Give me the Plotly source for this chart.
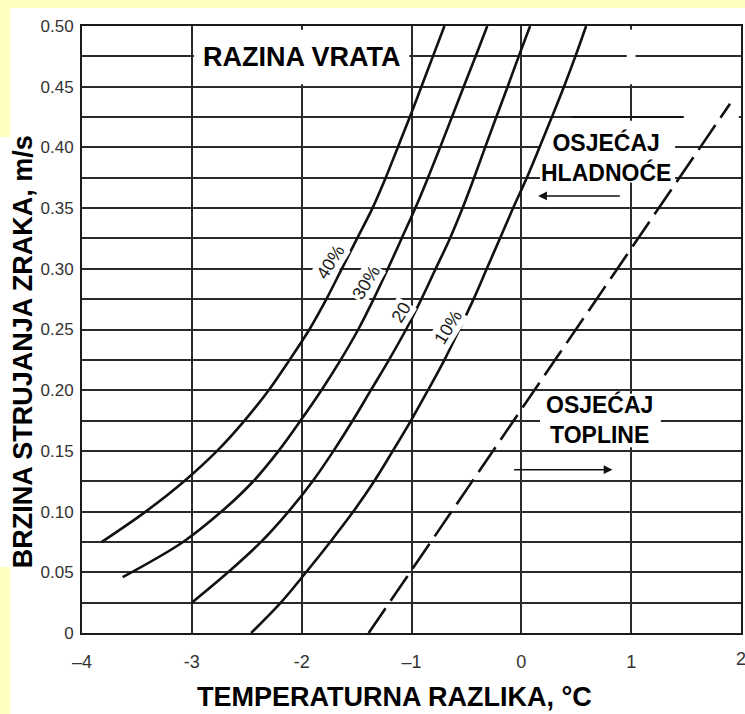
import plotly.graph_objects as go

# ---- data ----
x_40 = [-3.82, -3.42, -3.07, -2.77, -2.52, -2.30, -2.11, -1.93, -1.775, -1.635, -1.495, -1.355, -1.235, -1.125, -1.015, -0.91, -0.805, -0.70]
y_40 = [0.075, 0.10, 0.125, 0.15, 0.175, 0.20, 0.225, 0.25, 0.275, 0.30, 0.325, 0.35, 0.375, 0.40, 0.425, 0.45, 0.475, 0.50]

x_30 = [-3.63, -3.08, -2.73, -2.44, -2.21, -2.01, -1.82, -1.645, -1.485, -1.345, -1.215, -1.09, -0.965, -0.85, -0.74, -0.632, -0.525, -0.416, -0.31]
y_30 = [0.046, 0.075, 0.10, 0.125, 0.15, 0.175, 0.20, 0.225, 0.25, 0.275, 0.30, 0.325, 0.35, 0.375, 0.40, 0.425, 0.45, 0.475, 0.50]

x_20 = [-3.0, -2.67, -2.37, -2.12, -1.90, -1.71, -1.535, -1.37, -1.205, -1.05, -0.91, -0.78, -0.65, -0.535, -0.43, -0.33, -0.228, -0.125, -0.024, 0.08]
y_20 = [0.025, 0.05, 0.075, 0.10, 0.125, 0.15, 0.175, 0.20, 0.225, 0.25, 0.275, 0.30, 0.325, 0.35, 0.375, 0.40, 0.425, 0.45, 0.475, 0.50]

x_10 = [-2.46, -2.19, -1.96, -1.74, -1.53, -1.34, -1.17, -1.005, -0.85, -0.70, -0.565, -0.435, -0.315, -0.195, -0.075, 0.05, 0.165, 0.278, 0.388, 0.492, 0.59]
y_10 = [0.0, 0.025, 0.05, 0.075, 0.10, 0.125, 0.15, 0.175, 0.20, 0.225, 0.25, 0.275, 0.30, 0.325, 0.35, 0.375, 0.40, 0.425, 0.45, 0.475, 0.50]

x_limit = [-1.39, 1.90]
y_limit = [0.0, 0.436]

curve_labels = ["40%", "30%", "20", "10%"]
label_x = [-1.74, -1.41, -1.10, -0.665]
label_y = [0.306, 0.289, 0.264, 0.252]

x_tickvals = [-4, -3, -2, -1, 0, 1, 2]
x_ticktext = ["\u20134", "-3", "-2", "\u20131", "0", "1", "2"]
y_gridvals = [i * 0.025 for i in range(21)]
y_ticktext = ["0", "", "0.05", "", "0.10", "", "0.15", "", "0.20", "", "0.25", "", "0.30", "", "0.35", "", "0.40", "", "0.45", "", "0.50"]

# ---- figure ----
fig = go.Figure()
line_style = dict(color="#111", width=2.6)
for xs, ys in [(x_40, y_40), (x_30, y_30), (x_20, y_20), (x_10, y_10)]:
    fig.add_trace(go.Scatter(x=xs, y=ys, mode="lines", line=dict(shape="spline", smoothing=1.0, **line_style),
                             hoverinfo="skip", showlegend=False))
fig.add_trace(go.Scatter(x=x_limit, y=y_limit, mode="lines",
                         line=dict(color="#111", width=2.6, dash="30px,9px"),
                         hoverinfo="skip", showlegend=False))

W, H = 745, 714
L, R, T, B = 82, 2, 26, 81
pw, ph = W - L - R, H - T - B

def px(xp):
    return (xp - L) / pw

def py(yp):
    return (H - B - yp) / ph

shapes = [
    # white page over yellow background
    dict(type="rect", xref="paper", yref="paper", x0=px(10), x1=px(W + 5), y0=py(H + 5), y1=py(8),
         fillcolor="white", line=dict(width=0), layer="below"),
    dict(type="rect", xref="paper", yref="paper", x0=px(-5), x1=px(12), y0=py(567), y1=py(137),
         fillcolor="white", line=dict(width=0), layer="below"),
    # white boxes behind labels (hide grid)
    dict(type="rect", x0=-2.98, x1=-1.02, y0=0.452, y1=0.497, fillcolor="white", line=dict(width=0), layer="between"),
    dict(type="rect", x0=0.17, x1=1.40, y0=0.371, y1=0.422, fillcolor="white", line=dict(width=0), layer="between"),
    dict(type="rect", x0=0.96, x1=1.04, y0=0.452, y1=0.497, fillcolor="white", line=dict(width=0), layer="between"),
    dict(type="rect", x0=1.48, x1=1.98, y0=0.420, y1=0.430, fillcolor="white", line=dict(width=0), layer="between"),
    dict(type="rect", x0=0.17, x1=1.27, y0=0.153, y1=0.197, fillcolor="white", line=dict(width=0), layer="between"),
    dict(type="line", x0=0.46, x1=1.47, y0=0.425, y1=0.425, line=dict(color="#111", width=2), layer="between"),
]

bold = dict(family="Liberation Sans, Arial, sans-serif", color="black")
tick_font = dict(size=18, family="Liberation Sans, Arial", color="#333")
annotations = [
    dict(x=-2.0, y=0.4745, text="<b>RAZINA VRATA</b>", showarrow=False, font=dict(size=27, **bold)),
    dict(x=0.775, y=0.392, text="<b>OSJEĆAJ<br>HLADNOĆE</b>", showarrow=False, font=dict(size=23, **bold)),
    dict(x=0.712, y=0.1755, text="<b>OSJEĆAJ<br>TOPLINE</b>", showarrow=False, font=dict(size=23, **bold)),
    dict(x=0.153, y=0.36, ax=0.91, ay=0.36, xref="x", yref="y", axref="x", ayref="y", text="",
         showarrow=True, arrowhead=2, arrowsize=1.1, arrowwidth=1.6, arrowcolor="#111"),
    dict(x=0.83, y=0.1345, ax=-0.08, ay=0.1345, xref="x", yref="y", axref="x", ayref="y", text="",
         showarrow=True, arrowhead=2, arrowsize=1.1, arrowwidth=1.6, arrowcolor="#111"),
    dict(xref="paper", yref="paper", x=px(395), y=py(697), xanchor="center", yanchor="middle",
         text="<b>TEMPERATURNA RAZLIKA, °C</b>", showarrow=False, font=dict(size=27, **bold)),
    dict(xref="paper", yref="paper", x=px(23), y=py(352), xanchor="center", yanchor="middle",
         text="<b>BRZINA STRUJANJA ZRAKA, m/s</b>",
         textangle=-90, showarrow=False, font=dict(size=27, **bold)),
    # last x tick label (cut at the right edge as in the reference)
    dict(xref="x", yref="paper", x=x_tickvals[-1], y=py(659), xanchor="center", yanchor="middle",
         text=x_ticktext[-1], showarrow=False, font=tick_font),
]
for t, lx, ly in zip(curve_labels, label_x, label_y):
    annotations.append(dict(x=lx, y=ly, text=t, showarrow=False, textangle=-58, bgcolor="white",
                            borderpad=1, font=dict(size=18, family="Liberation Sans, Arial", color="#1a1a1a")))

fig.update_layout(
    width=W, height=H,
    margin=dict(l=L, r=R, t=T, b=B, pad=0),
    paper_bgcolor="#FFFFC0",
    plot_bgcolor="white",
    shapes=shapes,
    annotations=annotations,
    xaxis=dict(range=[-4, 2], tickvals=x_tickvals[:-1], ticktext=x_ticktext[:-1], showgrid=True, gridcolor="#2a2a2a",
               gridwidth=1.6, zeroline=False, showline=True, mirror=True, linecolor="#1a1a1a", linewidth=2,
               ticks="", ticklabelstandoff=11, tickfont=tick_font),
    yaxis=dict(range=[0, 0.5], tickvals=y_gridvals, ticktext=y_ticktext, showgrid=True, gridcolor="#2a2a2a",
               gridwidth=1.6, zeroline=False, showline=True, mirror=True, linecolor="#1a1a1a", linewidth=2,
               ticks="", ticklabelstandoff=3,
               tickfont=dict(size=17, family="Liberation Sans, Arial", color="#333")),
)

fig.write_html("out.html", config={"displayModeBar": False},
               post_script="document.body.style.margin='0';document.body.style.overflow='hidden';")
